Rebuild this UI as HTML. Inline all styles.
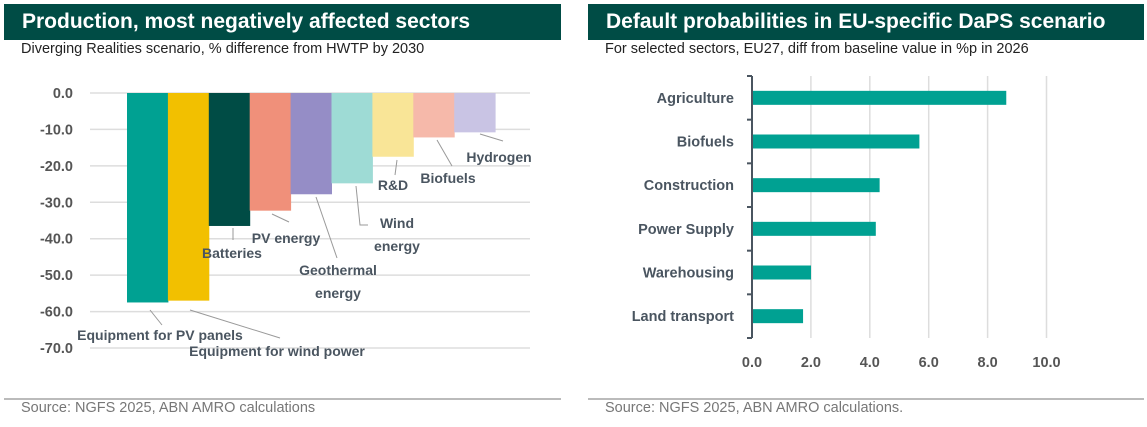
<!DOCTYPE html>
<html><head><meta charset="utf-8"><style>
body{margin:0;width:1147px;height:427px;background:#fff;font-family:"Liberation Sans",sans-serif;overflow:hidden;position:relative}
.hdr{position:absolute;top:4px;height:36px;background:#004c45;color:#fff;font-weight:bold;font-size:21px;line-height:36px;padding-left:18px;box-sizing:border-box}
.sub{position:absolute;top:41px;font-size:14.5px;color:#222}
.rule{position:absolute;top:398px;height:2px;background:#bbb}
.src{position:absolute;top:400px;font-size:14.5px;color:#777}
svg{position:absolute;left:0;top:0}
</style></head><body>
<div class="hdr" style="left:4px;width:557px">Production, most negatively affected sectors</div>
<div class="sub" style="left:21px">Diverging Realities scenario, % difference from HWTP by 2030</div>
<div class="rule" style="left:4px;width:557px"></div>
<div class="src" style="left:21px">Source: NGFS 2025, ABN AMRO calculations</div>
<div class="hdr" style="left:588px;width:556px">Default probabilities in EU-specific DaPS scenario</div>
<div class="sub" style="left:605px">For selected sectors, EU27, diff from baseline value in %p in 2026</div>
<div class="rule" style="left:588px;width:556px"></div>
<div class="src" style="left:605px">Source: NGFS 2025, ABN AMRO calculations.</div>
<svg width="1147" height="427" id="svg"></svg>
<script>
const leftCats=["Equipment for PV panels","Equipment for wind power","Batteries","PV energy","Geothermal energy","Wind energy","R&D","Biofuels","Hydrogen"];
const leftVals=[-57.5,-57.0,-36.5,-32.3,-27.8,-24.8,-17.5,-12.2,-10.8];
const leftTicks=[0,-10,-20,-30,-40,-50,-60,-70];
const rightCats=["Agriculture","Biofuels","Construction","Power Supply","Warehousing","Land transport"];
const rightVals=[8.6,5.65,4.3,4.17,1.97,1.7];
const rightTicks=[0,2,4,6,8,10];

const NS="http://www.w3.org/2000/svg",svg=document.getElementById('svg');
function mk(t,a,txt){const e=document.createElementNS(NS,t);for(const k in a)e.setAttribute(k,a[k]);if(txt!==undefined)e.textContent=txt;svg.appendChild(e);return e;}
const lc=["#00a192","#f2c000","#004c45","#f0907a","#958dc6","#9edbd5","#f9e597","#f6b9aa","#c9c4e4"];
const ly=v=>93+(-v/70)*(348-93);
const lx0=127,bw=40.9;
leftTicks.forEach(t=>{
 let g=mk('line',{x1:90,x2:530,y1:ly(t),y2:ly(t),stroke:"#ddd","stroke-width":1.5});
 
 let l=mk('text',{x:73,y:ly(t)+5,"text-anchor":"end","font-size":14.5,"font-weight":"bold",fill:"#555"},t.toFixed(1));
 
});
leftVals.forEach((v,i)=>{
 let r=mk('rect',{x:lx0+i*bw,y:ly(0),width:bw+0.5,height:ly(v)-ly(0),fill:lc[i]});
 
});
const labs=[[160,340,["Equipment for PV panels"],[[150,310],[162,325]]],[277,356,["Equipment for wind power"],[[190,310],[280,338]]],
[232,258,["Batteries"],[[233,228],[233,240]]],[286,243,["PV energy"],[[272,214],[289,222]]],[338,275,["Geothermal","energy"],[[316,197],[337,258]]],
[397,228,["Wind","energy"],[[356,186],[360,225],[368,225]]],[393,190,["R&D"],[[397,160],[395,175]]],[448,183,["Biofuels"],[[437,140],[452,166]]],[499,162,["Hydrogen"],[[480,134],[503,141]]]];
labs.forEach((L,i)=>{
 let p=mk('polyline',{points:L[3].map(q=>q.join(',')).join(' '),fill:"none",stroke:"#999","stroke-width":1});
 
 L[2].forEach((s,j)=>{let t=mk('text',{x:L[0],y:L[1]+j*23,"text-anchor":"middle","font-size":14,"font-weight":"bold",fill:"#4a5560"},s);
 });
});
const rx=v=>752+v*29.45, rTop=76, rBot=338, band=(rBot-rTop)/6;
rightTicks.forEach(t=>{
 if(t>0){let g=mk('line',{x1:rx(t),x2:rx(t),y1:rTop,y2:rBot,stroke:"#ddd","stroke-width":1.5});
 }
 let l=mk('text',{x:rx(t),y:367,"text-anchor":"middle","font-size":14.5,"font-weight":"bold",fill:"#555"},t.toFixed(1));
 
});
let ax=mk('line',{x1:752,x2:752,y1:rTop,y2:rBot,stroke:"#4a5560","stroke-width":2});

for(let i=0;i<=6;i++){let tk=mk('line',{x1:747,x2:752,y1:rTop+i*band,y2:rTop+i*band,stroke:"#4a5560","stroke-width":2});
 }
rightVals.forEach((v,i)=>{
 const cy=rTop+band*(i+0.5);
 let r=mk('rect',{x:753,y:cy-7,width:rx(v)-752,height:14,fill:"#00a192"});
 
 let t=mk('text',{x:734,y:cy+5,"text-anchor":"end","font-size":14.5,"font-weight":"bold",fill:"#4a5560"},rightCats[i]);
 
});
</script>
</body></html>
